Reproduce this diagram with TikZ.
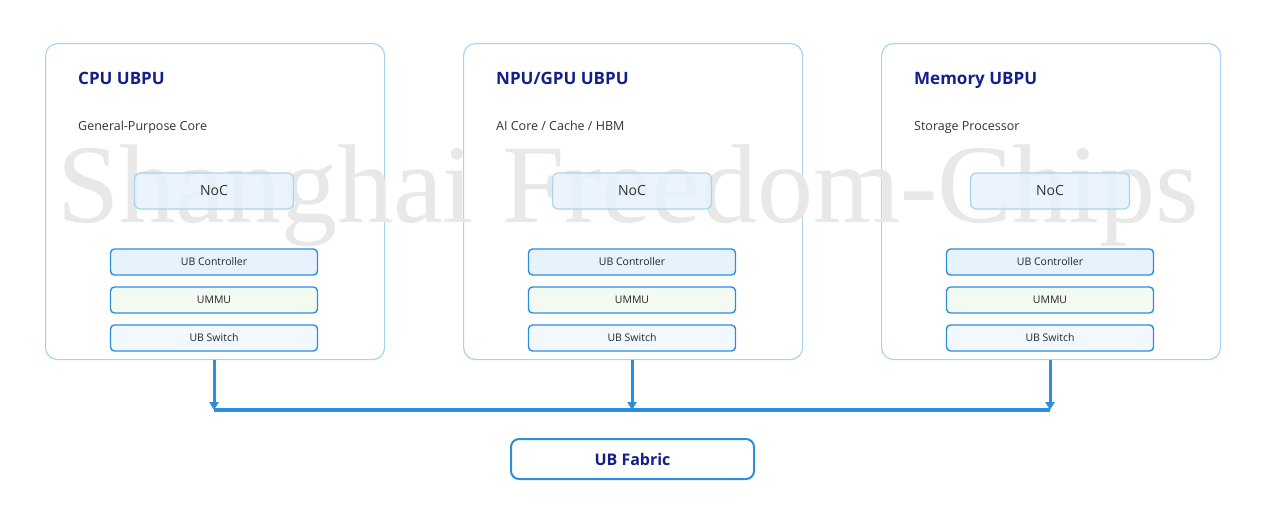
\documentclass[tikz,border=0pt]{standalone}
\usepackage{fontspec}
\setmainfont{Open Sans}
\newfontfamily\wmfont{Liberation Serif}
\usetikzlibrary{positioning,arrows.meta}
\definecolor{ubline}{HTML}{2B8FE0}
\definecolor{ubpale}{HTML}{A8D4F0}
\definecolor{ubnavy}{HTML}{14208A}
\definecolor{ubfill}{HTML}{E6F2FC}
\definecolor{ubgreen}{HTML}{F2FAF2}
\definecolor{ubsw}{HTML}{F2F8FE}
\begin{document}
\begin{tikzpicture}[x=1pt,y=-1pt,
    every node/.style={inner sep=0pt},
    unit/.style={draw=ubpale,line width=1.2pt,rounded corners=12pt,fill=white,
      minimum width=339pt,minimum height=316pt,anchor=north west},
    title/.style={anchor=base west,text=ubnavy,font=\fontsize{17}{20}\selectfont\bfseries},
    sub/.style={anchor=base west,text=black!80,font=\fontsize{12.5}{15}\selectfont},
    noc/.style={draw=ubpale,line width=1.2pt,rounded corners=6pt,fill=ubfill,fill opacity=.8,text opacity=1,
      minimum width=159pt,minimum height=36pt,font=\fontsize{14}{16}\selectfont,text=black!80},
    part/.style={draw=ubline,line width=1.4pt,rounded corners=4pt,
      minimum width=207pt,minimum height=26pt,font=\fontsize{10.5}{12}\selectfont,text=black!85},
    link/.style={ubline,line width=3pt,-{Triangle[length=8pt,width=9pt]}}]
\useasboundingbox (0,0) rectangle (1265,510);
\fill[white] (0,0) rectangle (1265,510);
\foreach \n/\x/\t/\s in {cpu/45/{CPU UBPU}/{General-Purpose Core},
    npu/463/{NPU/GPU UBPU}/{AI Core / Cache / HBM},
    mem/881/{Memory UBPU}/{Storage Processor}}{
  \node[unit] (\n) at (\x,43) {};
  \node[title] (\n-t) at (\x+33,85) {\t};
  \node[sub] (\n-s) at (\x+33,131) {\s};
}
% watermark
\node[text=black!9,font=\wmfont\fontsize{112}{120}\selectfont] (wm) at (628,196) {Shanghai Freedom-Chips};
\foreach \n/\x in {cpu/45,npu/463,mem/881}{
  \node[noc] (\n-noc) at (\x+169,191) {NoC};
  \node[part,fill=ubfill] (\n-ctl) at (\x+169,262) {UB Controller};
  \node[part,fill=ubgreen] (\n-mmu) at (\x+169,300) {UMMU};
  \node[part,fill=ubsw] (\n-sw) at (\x+169,338) {UB Switch};
}
% bus
\coordinate (bus-l) at (214,410);
\coordinate (bus-r) at (1050,410);
\draw[ubline,line width=4pt] (bus-l) -- (bus-r);
\foreach \n in {cpu,npu,mem}
  \draw[link] (\n-sw |- \n.south) -- (\n-sw |- bus-l);
\node[draw=ubline,line width=2pt,rounded corners=8pt,minimum width=243pt,minimum height=40pt,
  text=ubnavy,font=\fontsize{16}{19}\selectfont\bfseries] (fab) at (632.5,459) {UB Fabric};
\end{tikzpicture}
\end{document}
